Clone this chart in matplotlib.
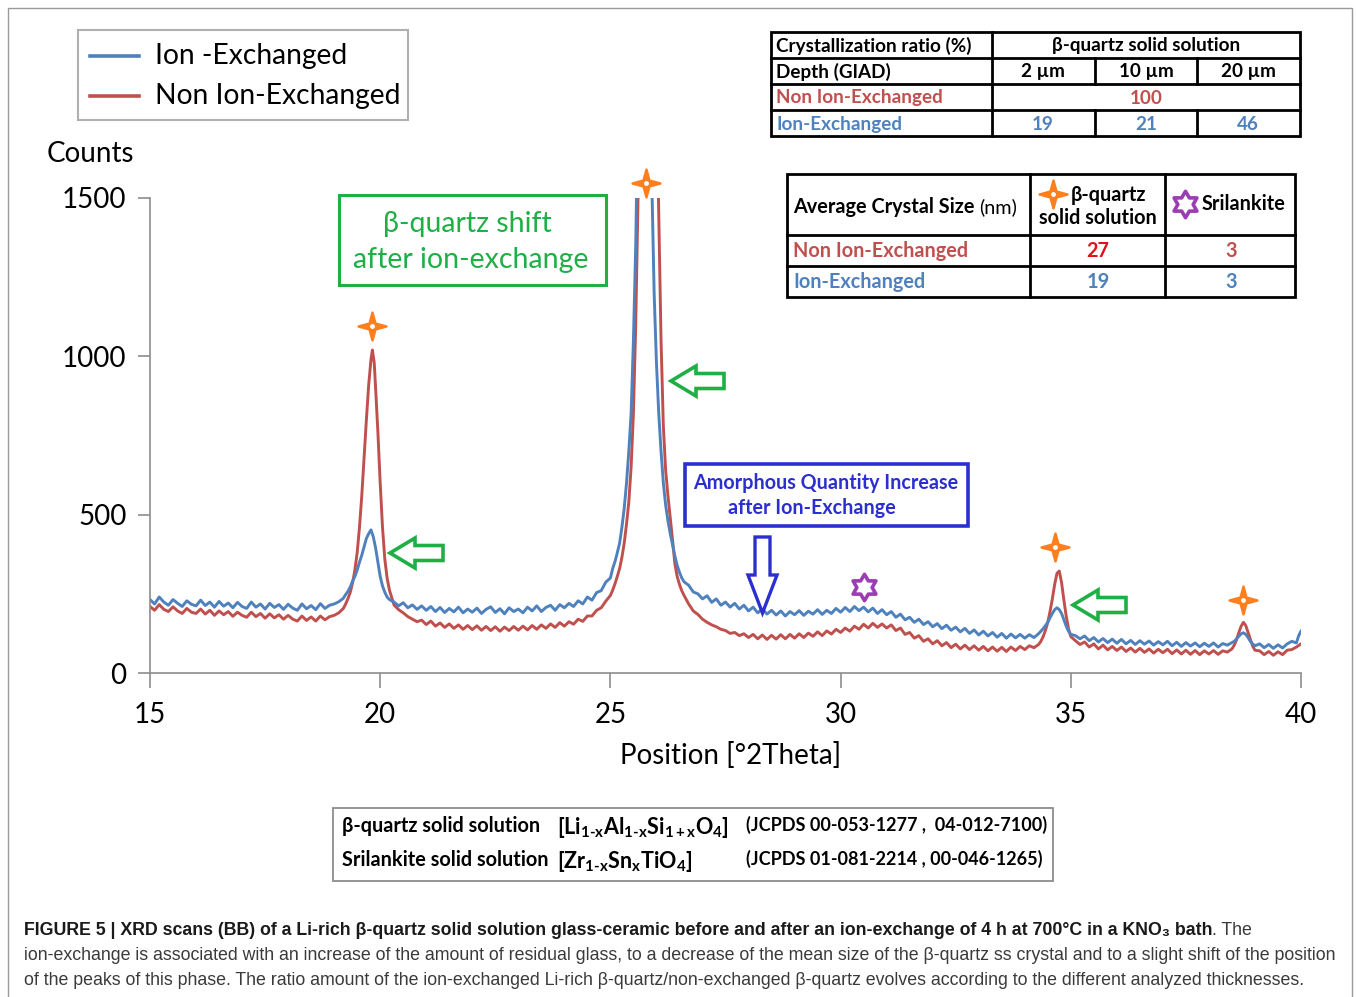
import numpy as np
import matplotlib
matplotlib.use('Agg')
import matplotlib.pyplot as plt
from matplotlib.patches import Rectangle, Polygon
from matplotlib.path import Path
from matplotlib.lines import Line2D

# ---------------- data ----------------
ion_x = [15.0, 15.1, 15.2, 15.3, 15.4, 15.5, 15.6, 15.7, 15.8, 15.9,
         16.0, 16.1, 16.2, 16.3, 16.4, 16.5, 16.6, 16.7, 16.8, 16.9,
         17.0, 17.1, 17.2, 17.3, 17.4, 17.5, 17.6, 17.7, 17.8, 17.9,
         18.0, 18.1, 18.2, 18.3, 18.4, 18.5, 18.6, 18.7, 18.8, 18.9,
         19.0, 19.1, 19.2, 19.25, 19.3, 19.35, 19.4, 19.45, 19.5, 19.55,
         19.6, 19.65, 19.7, 19.75, 19.8, 19.85, 19.9, 19.95, 20.0, 20.05,
         20.1, 20.15, 20.2, 20.3, 20.4, 20.5, 20.6, 20.7, 20.8, 20.9,
         21.0, 21.1, 21.2, 21.3, 21.4, 21.5, 21.6, 21.7, 21.8, 21.9,
         22.0, 22.1, 22.2, 22.3, 22.4, 22.5, 22.6, 22.7, 22.8, 22.9,
         23.0, 23.1, 23.2, 23.3, 23.4, 23.5, 23.6, 23.7, 23.8, 23.9,
         24.0, 24.1, 24.2, 24.3, 24.4, 24.5, 24.6, 24.7, 24.8, 24.9,
         25.0, 25.05, 25.1, 25.15, 25.2, 25.25, 25.3, 25.35, 25.4, 25.45,
         25.5, 25.55, 25.6, 25.65, 25.7, 25.75, 25.8, 25.85, 25.9, 25.95,
         26.0, 26.05, 26.1, 26.15, 26.2, 26.25, 26.3, 26.35, 26.4, 26.45,
         26.5, 26.55, 26.6, 26.7, 26.8, 26.9, 27.0, 27.1, 27.2, 27.3,
         27.4, 27.5, 27.6, 27.7, 27.8, 27.9,
         28.0, 28.1, 28.2, 28.3, 28.4, 28.5, 28.6, 28.7, 28.8, 28.9,
         29.0, 29.1, 29.2, 29.3, 29.4, 29.5, 29.6, 29.7, 29.8, 29.9,
         30.0, 30.1, 30.2, 30.3, 30.4, 30.5, 30.6, 30.7, 30.8, 30.9,
         31.0, 31.1, 31.2, 31.3, 31.4, 31.5, 31.6, 31.7, 31.8, 31.9,
         32.0, 32.1, 32.2, 32.3, 32.4, 32.5, 32.6, 32.7, 32.8, 32.9,
         33.0, 33.1, 33.2, 33.3, 33.4, 33.5, 33.6, 33.7, 33.8, 33.9,
         34.0, 34.1, 34.2, 34.3, 34.35, 34.4, 34.45, 34.5, 34.55, 34.6,
         34.65, 34.7, 34.75, 34.8, 34.85, 34.9, 34.95, 35.0,
         35.1, 35.2, 35.3, 35.4, 35.5, 35.6, 35.7, 35.8, 35.9,
         36.0, 36.1, 36.2, 36.3, 36.4, 36.5, 36.6, 36.7, 36.8, 36.9,
         37.0, 37.1, 37.2, 37.3, 37.4, 37.5, 37.6, 37.7, 37.8, 37.9,
         38.0, 38.1, 38.2, 38.3, 38.4, 38.5, 38.55, 38.6, 38.65, 38.7,
         38.75, 38.8, 38.85, 38.9, 38.95, 39.0,
         39.1, 39.2, 39.3, 39.4, 39.5, 39.6, 39.7, 39.8, 39.9, 39.95, 40.0]
ion_y = [232, 218, 240, 224, 214, 232, 220, 210, 228, 217,
         212, 230, 213, 224, 208, 226, 211, 221, 206, 223,
         210, 204, 224, 208, 218, 202, 220, 207, 216, 201,
         217, 205, 198, 218, 203, 213, 200, 219, 204, 214,
         218, 225, 236, 248, 258, 272, 290, 305, 325, 350,
         372, 398, 425, 440, 452, 430, 395, 350, 305, 275,
         255, 240, 232, 224, 212, 222, 206, 215, 201, 212,
         198, 210, 194, 207, 191, 204, 193, 208, 190, 202,
         192, 205, 188, 201, 209, 191, 203, 187, 206, 194,
         202, 190, 208, 196, 212, 194, 207, 214, 198, 216,
         206, 220, 210, 228, 218, 240, 230, 254, 260, 287,
         300, 330, 352, 380, 410, 460, 520, 600, 700, 820,
         1050, 1350, 1800, 2400, 2900, 3000, 2600, 2000, 1550, 1200,
         980, 820, 700, 600, 530, 480, 440, 405, 370, 340,
         318, 300, 288, 277, 256, 250, 234, 244, 223, 234,
         214, 224, 208, 220, 202, 214,
         196, 208, 190, 202, 186, 198, 183, 196, 180, 194,
         184, 197, 182, 195, 186, 200, 185, 198, 188, 204,
         192, 207, 194, 210, 197, 208, 193, 205, 188, 200,
         184, 194, 176, 186, 168, 176, 160, 170, 153, 162,
         146, 156, 140, 151, 135, 145, 130, 141, 125, 136,
         120, 132, 117, 128, 113, 125, 110, 123, 111, 122,
         110, 121, 112, 124, 132, 140, 150, 160, 175, 188,
         200, 206, 200, 188, 168, 148, 132, 122,
         118, 108, 117, 102, 112, 98, 109, 96, 107,
         94, 106, 92, 103, 90, 102, 91, 101, 88, 99,
         89, 100, 86, 97, 84, 96, 85, 95, 83, 94,
         84, 95, 82, 93, 88, 96, 100, 108, 116, 124,
         127, 122, 112, 100, 92, 86,
         92, 80, 90, 78, 89, 79, 92, 100, 95, 118, 132]

non_x = [15.0, 15.1, 15.2, 15.3, 15.4, 15.5, 15.6, 15.7, 15.8, 15.9,
         16.0, 16.1, 16.2, 16.3, 16.4, 16.5, 16.6, 16.7, 16.8, 16.9,
         17.0, 17.1, 17.2, 17.3, 17.4, 17.5, 17.6, 17.7, 17.8, 17.9,
         18.0, 18.1, 18.2, 18.3, 18.4, 18.5, 18.6, 18.7, 18.8, 18.9,
         19.0, 19.1, 19.2, 19.25, 19.3, 19.35, 19.4, 19.45, 19.5, 19.55,
         19.6, 19.65, 19.7, 19.75, 19.8, 19.83, 19.87, 19.9, 19.95, 20.0,
         20.05, 20.1, 20.15, 20.2, 20.25, 20.3, 20.4, 20.5, 20.6, 20.7,
         20.8, 20.9,
         21.0, 21.1, 21.2, 21.3, 21.4, 21.5, 21.6, 21.7, 21.8, 21.9,
         22.0, 22.1, 22.2, 22.3, 22.4, 22.5, 22.6, 22.7, 22.8, 22.9,
         23.0, 23.1, 23.2, 23.3, 23.4, 23.5, 23.6, 23.7, 23.8, 23.9,
         24.0, 24.1, 24.2, 24.3, 24.4, 24.5, 24.6, 24.7, 24.8, 24.9,
         25.0, 25.05, 25.1, 25.15, 25.2, 25.25, 25.3, 25.35, 25.4, 25.45,
         25.5, 25.55, 25.6, 25.65, 25.7, 25.75, 25.8, 25.85, 25.9, 25.95,
         26.0, 26.05, 26.1, 26.15, 26.2, 26.25, 26.3, 26.35, 26.4, 26.45,
         26.5, 26.55, 26.6, 26.7, 26.8, 26.9, 27.0, 27.1, 27.2, 27.3,
         27.4, 27.5, 27.6, 27.7, 27.8, 27.9,
         28.0, 28.1, 28.2, 28.3, 28.4, 28.5, 28.6, 28.7, 28.8, 28.9,
         29.0, 29.1, 29.2, 29.3, 29.4, 29.5, 29.6, 29.7, 29.8, 29.9,
         30.0, 30.1, 30.2, 30.3, 30.4, 30.5, 30.6, 30.7, 30.8, 30.9,
         31.0, 31.1, 31.2, 31.3, 31.4, 31.5, 31.6, 31.7, 31.8, 31.9,
         32.0, 32.1, 32.2, 32.3, 32.4, 32.5, 32.6, 32.7, 32.8, 32.9,
         33.0, 33.1, 33.2, 33.3, 33.4, 33.5, 33.6, 33.7, 33.8, 33.9,
         34.0, 34.1, 34.2, 34.3, 34.35, 34.4, 34.45, 34.5, 34.55, 34.6,
         34.65, 34.7, 34.75, 34.8, 34.85, 34.9, 34.95, 35.0,
         35.1, 35.2, 35.3, 35.4, 35.5, 35.6, 35.7, 35.8, 35.9,
         36.0, 36.1, 36.2, 36.3, 36.4, 36.5, 36.6, 36.7, 36.8, 36.9,
         37.0, 37.1, 37.2, 37.3, 37.4, 37.5, 37.6, 37.7, 37.8, 37.9,
         38.0, 38.1, 38.2, 38.3, 38.4, 38.5, 38.55, 38.6, 38.65, 38.7,
         38.75, 38.8, 38.85, 38.9, 38.95, 39.0,
         39.1, 39.2, 39.3, 39.4, 39.5, 39.6, 39.7, 39.8, 39.9, 40.0]
non_y = [210, 198, 216, 201, 194, 209, 196, 188, 204, 192,
         188, 202, 186, 198, 182, 196, 184, 194, 179, 192,
         182, 176, 192, 178, 188, 173, 187, 174, 184, 170,
         182, 170, 164, 180, 166, 177, 164, 180, 168, 178,
         182, 190, 204, 218, 235, 255, 285, 325, 380, 460,
         560, 680, 800, 910, 990, 1020, 980, 900, 760, 600,
         460, 360, 300, 262, 238, 215, 200, 190, 178, 170,
         162, 167,
         153, 164, 148, 158, 144, 155, 141, 152, 138, 150,
         137, 149, 135, 147, 134, 146, 132, 145, 134, 147,
         135, 148, 136, 150, 138, 152, 141, 155, 144, 159,
         148, 162, 154, 170, 163, 180, 180, 198, 206, 227,
         245, 262, 282, 305, 330, 365, 410, 470, 540, 650,
         820, 1100, 1500, 2000, 2600, 3100, 3300, 3200, 2800, 2300,
         1850, 1450, 1050, 780, 640, 560, 490, 420, 345, 305,
         280, 260, 245, 218, 196, 185, 170, 160, 152, 146,
         138, 134, 125, 128, 118, 124,
         112, 122, 108, 120, 106, 119, 107, 121, 108, 122,
         110, 124, 112, 126, 116, 130, 118, 133, 123, 138,
         128, 142, 132, 148, 138, 154, 142, 157, 144, 155,
         142, 152, 134, 142, 122, 128, 110, 118, 100, 108,
         92, 102, 86, 96, 80, 91, 76, 88, 74, 86,
         72, 84, 70, 82, 69, 81, 68, 82, 71, 84,
         74, 86, 80, 90, 100, 115, 135, 160, 195, 235,
         280, 315, 322, 285, 230, 180, 140, 115,
         102, 90, 98, 82, 92, 76, 88, 73, 84,
         71, 82, 68, 79, 66, 78, 65, 76, 63, 75,
         64, 75, 61, 73, 60, 72, 59, 71, 58, 70,
         60, 71, 59, 70, 66, 76, 88, 105, 128, 148,
         160, 150, 128, 105, 85, 72,
         70, 58, 68, 56, 67, 58, 72, 74, 82, 92]

series_labels = ["Ion -Exchanged", "Non Ion-Exchanged"]
x_ticks = [15, 20, 25, 30, 35, 40]
y_ticks = [0, 500, 1000, 1500]

# annotation marker positions (2theta, counts)
quartz_peaks_x = [19.82, 25.77, 34.66, 38.74]
quartz_peaks_y = [1096, 1547, 398, 230]
srilankite_x = [30.51]
srilankite_y = [272]

# tables
tab1_cols = ["2 µm", "10 µm", "20 µm"]
tab1_non = "100"
tab1_ion = ["19", "21", "46"]
tab2_non = ["27", "3"]
tab2_ion = ["19", "3"]

# ---------------- styling ----------------
BLUE = '#4F81BD'
RED = '#C0504D'
GREEN = '#1FAF45'
ORANGE = '#FF7F1E'
PURPLE = '#9B3DB3'
DBLUE = '#2B2FD0'
FONT = 'Lato'

W, H = 1357, 997
fig = plt.figure(figsize=(W / 100, H / 100), dpi=100)
fig.patch.set_facecolor('white')


def fx(px):
    return px / W


def fy(py):
    return 1 - py / H


def ptext(px, py, s, **kw):
    kw.setdefault('family', FONT)
    return fig.text(fx(px), fy(py), s, **kw)


def pline(xs, ys, **kw):
    fig.add_artist(Line2D([fx(v) for v in xs], [fy(v) for v in ys],
                          transform=fig.transFigure, **kw))


def prect(x0, y0, x1, y1, **kw):
    r = Rectangle((fx(x0), fy(y1)), fx(x1) - fx(x0), fy(y0) - fy(y1),
                  transform=fig.transFigure, fill=False, **kw)
    fig.add_artist(r)


def ppoly(pts, **kw):
    p = Polygon([(fx(a), fy(b)) for a, b in pts], closed=True,
                transform=fig.transFigure, fill=False, **kw)
    fig.add_artist(p)


# outer border
prect(8, 8, 1352, 1010, edgecolor='#9a9a9a', linewidth=1.0)

# ---------------- main axes ----------------
ax = fig.add_axes([fx(150), fy(673), fx(1301) - fx(150), fy(198) - fy(673)])
ax.plot(non_x, non_y, color=RED, lw=2.1, solid_joinstyle='round')
ax.plot(ion_x, ion_y, color=BLUE, lw=2.1, solid_joinstyle='round')
ax.set_xlim(15, 40)
ax.set_ylim(0, 1500)
ax.set_xticks(x_ticks)
ax.set_yticks(y_ticks)
for s in ['top', 'right']:
    ax.spines[s].set_visible(False)
for s in ['left', 'bottom']:
    ax.spines[s].set_color('#8c8c8c')
    ax.spines[s].set_linewidth(1.2)
ax.tick_params(axis='both', direction='out', color='#8c8c8c', width=1.2,
               labelsize=20)
ax.tick_params(axis='y', length=9, pad=8)
ax.tick_params(axis='x', length=11, pad=10)
for lab in ax.get_xticklabels() + ax.get_yticklabels():
    lab.set_family(FONT)
ax.set_facecolor('none')

ptext(731, 756, "Position [°2Theta]", fontsize=20, ha='center', va='center')
ptext(47, 154, "Counts", fontsize=20, ha='left', va='center')

# star markers
star4 = []
for k in range(8):
    ang = np.pi / 2 + k * np.pi / 4
    r = 1.0 if k % 2 == 0 else 0.3
    star4.append((r * np.cos(ang), r * np.sin(ang)))
star4_path = Path(star4 + [star4[0]], closed=True)

hexa = []
for k in range(12):
    ang = np.pi / 2 + k * np.pi / 6
    r = 1.0 if k % 2 == 0 else 0.58
    hexa.append((r * np.cos(ang), r * np.sin(ang)))
hexa_path = Path(hexa + [hexa[0]], closed=True)

STAR_MS = 20
HEX_MS = 19
ax.plot(quartz_peaks_x, quartz_peaks_y, linestyle='none', marker=star4_path,
        markersize=STAR_MS, color=ORANGE, markeredgewidth=1.8, clip_on=False)
ax.plot(quartz_peaks_x, quartz_peaks_y, linestyle='none', marker='o',
        markersize=3.5, color='white', markeredgewidth=0, clip_on=False)
ax.plot(srilankite_x, srilankite_y, linestyle='none', marker=hexa_path,
        markersize=HEX_MS, markerfacecolor='none', markeredgecolor=PURPLE,
        markeredgewidth=2.6, clip_on=False)

# ---------------- legend ----------------
prect(78, 30, 408, 120, edgecolor='#b0b0b0', linewidth=1.5)
pline([90, 139], [56, 56], color=BLUE, lw=2.6)
pline([90, 139], [96, 96], color=RED, lw=2.6)
ptext(155, 56, series_labels[0], fontsize=20.3, va='center')
ptext(155, 96, series_labels[1], fontsize=20.3, va='center')

# ---------------- green box + arrows ----------------
prect(339, 195, 606, 285, edgecolor=GREEN, linewidth=2.2)
ptext(467, 224, "β-quartz shift", fontsize=20.5, color=GREEN, ha='center', va='center')
ptext(471, 260, "after ion-exchange", fontsize=20.5, color=GREEN, ha='center', va='center')


def left_arrow(tx, ty, L=53, hl=25, hh=15, sh=7.5):
    pts = [(tx, ty), (tx + hl, ty - hh), (tx + hl, ty - sh), (tx + L, ty - sh),
           (tx + L, ty + sh), (tx + hl, ty + sh), (tx + hl, ty + hh)]
    ppoly(pts, edgecolor=GREEN, linewidth=2.6, joinstyle='miter')


left_arrow(390, 553)
left_arrow(671, 381)
left_arrow(1073, 605)

# ---------------- blue box + down arrow ----------------
prect(685, 464, 968, 526, edgecolor=DBLUE, linewidth=2.6)
ptext(826, 483, "Amorphous Quantity Increase", fontsize=14.2, color=DBLUE,
      fontweight='bold', ha='center', va='center')
ptext(812, 508, "after Ion-Exchange", fontsize=14.2, color=DBLUE,
      fontweight='bold', ha='center', va='center')
cx = 762.5
ppoly([(cx - 7.5, 537), (cx + 7.5, 537), (cx + 7.5, 575), (cx + 14.5, 575),
       (cx, 613), (cx - 14.5, 575), (cx - 7.5, 575)],
      edgecolor=DBLUE, linewidth=2.4, joinstyle='miter')

# ---------------- table 1 ----------------
TLW = 2.0
prect(771, 32, 1300, 136, edgecolor='black', linewidth=TLW)
for yy in [58, 84, 110]:
    pline([771, 1300], [yy, yy], color='black', lw=TLW)
pline([992, 992], [32, 136], color='black', lw=TLW)
for xx in [1095, 1197]:
    pline([xx, xx], [58, 84], color='black', lw=TLW)
    pline([xx, xx], [110, 136], color='black', lw=TLW)
T1 = 13.6
ptext(776, 46, "Crystallization ratio (%)", fontsize=T1, fontweight='bold', va='center')
ptext(1146, 46, "β-quartz solid solution", fontsize=T1, fontweight='bold', va='center', ha='center')
ptext(776, 72, "Depth (GIAD)", fontsize=T1, fontweight='bold', va='center')
for xc, s in zip([1043, 1146, 1248], tab1_cols):
    ptext(xc, 72, s, fontsize=T1, fontweight='bold', va='center', ha='center')
ptext(776, 98, "Non Ion-Exchanged", fontsize=T1, fontweight='bold', va='center', color=RED)
ptext(1146, 98, tab1_non, fontsize=T1, fontweight='bold', va='center', ha='center', color=RED)
ptext(776, 124, "Ion-Exchanged", fontsize=T1, fontweight='bold', va='center', color=BLUE)
for xc, s in zip([1043, 1146, 1248], tab1_ion):
    ptext(xc, 124, s, fontsize=T1, fontweight='bold', va='center', ha='center', color=BLUE)

# ---------------- table 2 ----------------
prect(787, 174, 1295, 297, edgecolor='black', linewidth=TLW)
for yy in [235, 266]:
    pline([787, 1295], [yy, yy], color='black', lw=TLW)
for xx in [1030, 1165]:
    pline([xx, xx], [174, 297], color='black', lw=TLW)
T2 = 14.3
t = ptext(793, 207, "Average Crystal Size", fontsize=T2, fontweight='bold', va='center')
fig.canvas.draw()
bb = t.get_window_extent()
ptext(bb.x1 + 5, 207, "(nm)", fontsize=T2, va='center')
ptext(1071, 195, "β-quartz", fontsize=T2, fontweight='bold', va='center')
ptext(1098, 218, "solid solution", fontsize=T2, fontweight='bold', va='center', ha='center')
ptext(1202, 204, "Srilankite", fontsize=T2, fontweight='bold', va='center')
fig.add_artist(Line2D([fx(1053)], [fy(194)], transform=fig.transFigure,
                      marker=star4_path, markersize=STAR_MS, color=ORANGE,
                      markeredgewidth=1.8, linestyle='none'))
fig.add_artist(Line2D([fx(1053)], [fy(194)], transform=fig.transFigure,
                      marker='o', markersize=3.5, color='white',
                      markeredgewidth=0, linestyle='none'))
fig.add_artist(Line2D([fx(1185)], [fy(204)], transform=fig.transFigure,
                      marker=hexa_path, markersize=HEX_MS, markerfacecolor='none',
                      markeredgecolor=PURPLE, markeredgewidth=2.6,
                      linestyle='none'))
ptext(793, 251, "Non Ion-Exchanged", fontsize=T2, fontweight='bold', va='center', color=RED)
ptext(1098, 251, tab2_non[0], fontsize=T2, fontweight='bold', va='center', ha='center', color='#E0101E')
ptext(1231, 251, tab2_non[1], fontsize=T2, fontweight='bold', va='center', ha='center', color=RED)
ptext(793, 282, "Ion-Exchanged", fontsize=T2, fontweight='bold', va='center', color=BLUE)
ptext(1098, 282, tab2_ion[0], fontsize=T2, fontweight='bold', va='center', ha='center', color=BLUE)
ptext(1231, 282, tab2_ion[1], fontsize=T2, fontweight='bold', va='center', ha='center', color=BLUE)

# ---------------- bottom formula box ----------------
plt.rcParams['mathtext.fontset'] = 'custom'
plt.rcParams['mathtext.rm'] = 'Lato:bold'
plt.rcParams['mathtext.it'] = 'Lato:bold'
plt.rcParams['mathtext.bf'] = 'Lato:bold'
prect(333, 808, 1053, 881, edgecolor='#8c8c8c', linewidth=1.3)
B = 14.3
ptext(342, 826, "β-quartz solid solution", fontsize=B, fontweight='bold', va='center')
ptext(557, 827, r"$\mathrm{[Li_{1\text{-}x}Al_{1\text{-}x}Si_{1+x}O_4]}$", fontsize=15.5, va='center')
ptext(746, 825, "(JCPDS 00-053-1277 ,  04-012-7100)", fontsize=13, fontweight='bold', va='center')
ptext(342, 860, "Srilankite solid solution", fontsize=B, fontweight='bold', va='center')
ptext(557, 861, r"$\mathrm{[Zr_{1\text{-}x}Sn_xTiO_4]}$", fontsize=15.5, va='center')
ptext(746, 859, "(JCPDS 01-081-2214 , 00-046-1265)", fontsize=13, fontweight='bold', va='center')

# ---------------- caption ----------------
CF = ['Liberation Sans', 'DejaVu Sans']
CS = 13.0
line2 = ("ion-exchange is associated with an increase of the amount of residual glass, "
         "to a decrease of the mean size of the β-quartz ss crystal and to a slight shift of the position")
probe = fig.text(0, 0, line2, family=CF, fontsize=CS)
fig.canvas.draw()
wpx = probe.get_window_extent().width
probe.remove()
CS = CS * (1331 - 24) / wpx

c1 = fig.text(fx(24), fy(930), "FIGURE 5 | XRD scans (BB) of a Li-rich β-quartz solid solution glass-ceramic "
              "before and after an ion-exchange of 4 h at 700°C in a KNO₃ bath",
              family=CF, fontsize=CS, fontweight='bold', color='#1a1a1a', va='center')
fig.canvas.draw()
bb = c1.get_window_extent()
fig.text(bb.x1 / W, fy(930), ". The", family=CF, fontsize=CS, color='#3a3a3a', va='center')
fig.text(fx(24), fy(955), line2, family=CF, fontsize=CS, color='#3a3a3a', va='center')
fig.text(fx(24), fy(980), "of the peaks of this phase. The ratio amount of the ion-exchanged Li-rich "
         "β-quartz/non-exchanged β-quartz evolves according to the different analyzed thicknesses.",
         family=CF, fontsize=CS, color='#3a3a3a', va='center')

fig.savefig('out.png', dpi=100, facecolor='white')
